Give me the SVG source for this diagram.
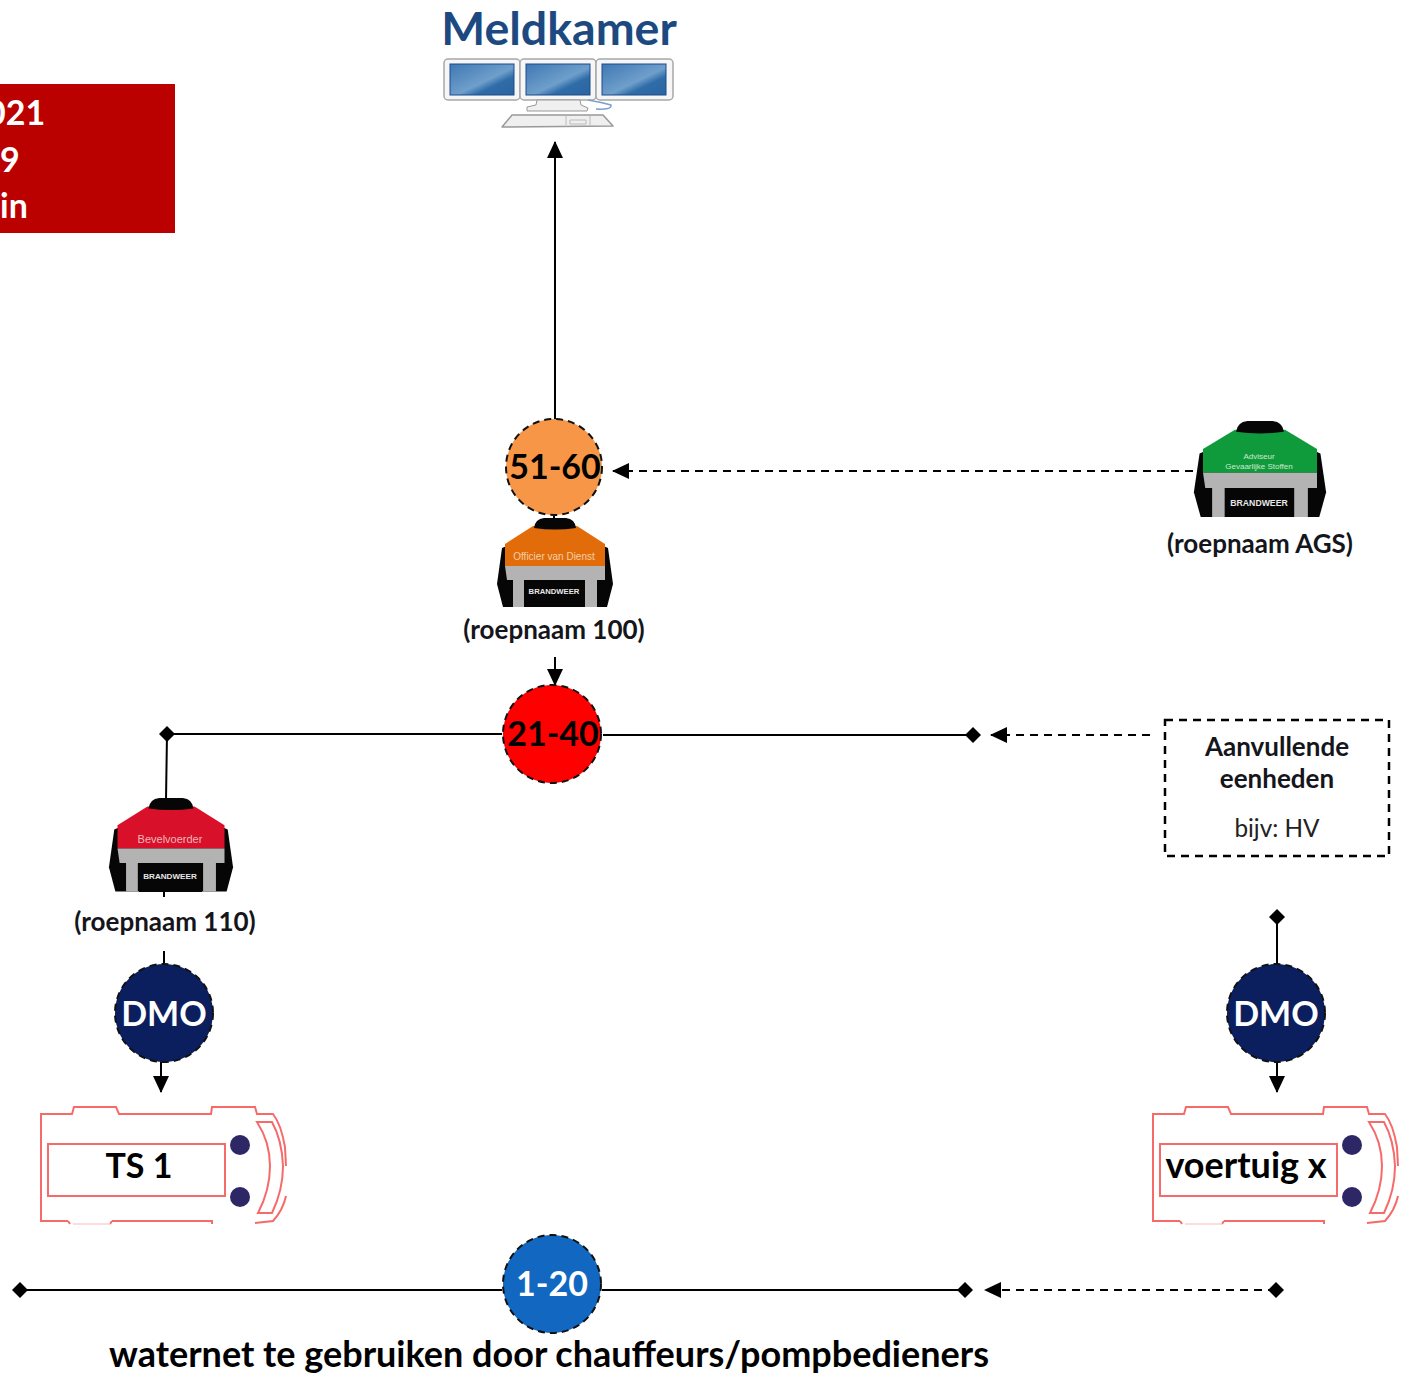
<svg xmlns="http://www.w3.org/2000/svg" xmlns:xlink="http://www.w3.org/1999/xlink" width="1401" height="1376" viewBox="0 0 1401 1376">
<style>
text{font-family:"Lato","Liberation Sans",sans-serif;text-anchor:middle;fill:#000}
.b{font-weight:700}
.lbl{font-size:26px;font-weight:700;fill:#15151c}
.num{font-size:34px;font-weight:700}
.w{fill:#fff}
.big{font-size:36px;font-weight:700}
.red{font-size:34px;font-weight:700;text-anchor:start;fill:#fff}
.jt{font-family:"Liberation Sans",sans-serif;fill:#eee;font-size:10px}
.bw{font-family:"Liberation Sans",sans-serif;font-weight:700;fill:#e8e8e8}
.line{fill:none;stroke:#000;stroke-width:2}
.dash{fill:none;stroke:#000;stroke-width:2;stroke-dasharray:8 6}
.circ{stroke:#111;stroke-width:2;stroke-dasharray:7 5}
.truck{fill:none;stroke:#f66a6a;stroke-width:2}
.scr{fill:url(#sg);stroke:#1d4a8c;stroke-width:1}
.mon{fill:#f6f6f6;stroke:#a8a8a8;stroke-width:1.5}
</style>
<defs>
<linearGradient id="sg" x1="0" y1="0" x2="1" y2="1"><stop offset="0" stop-color="#3f78b4"/><stop offset=".55" stop-color="#6f9fcb"/><stop offset=".7" stop-color="#2f6ca8"/><stop offset="1" stop-color="#2a64a0"/></linearGradient>
<marker id="arr" markerUnits="userSpaceOnUse" markerWidth="18" markerHeight="16" refX="16" refY="8" orient="auto"><path d="M0,0 L17,8 L0,16 Z" fill="#000"/></marker>
<marker id="dia" markerUnits="userSpaceOnUse" markerWidth="18" markerHeight="18" refX="9" refY="9" orient="0"><path d="M1,9 L9,1 L17,9 L9,17 Z" fill="#000"/></marker>
<g id="jk">
<path d="M-44,26 L-53,30 L-58,66 L-52,89 L52,89 L58,66 L53,30 L44,26 Z" fill="#060606"/>
<path d="M-50,48 L-50,26 L-22,8 L22,8 L50,26 L50,48 Z" fill="var(--c)"/>
<path d="M-21,10 Q-20,1 -11,0 L11,0 Q20,1 21,10 Q0,13 -21,10 Z" fill="#060606"/>
<path d="M-50,48 L50,48 L50,62 L42,62 L42,89 L30,89 L30,62 L-31,62 L-31,89 L-42,89 L-42,62 L-48,62 Z" fill="#b3b3b3"/>
</g>
<g id="truck">
<path class="truck" d="M27,115 L0,115 L0,8 L31,8 L33,1 L75,1 L78,8 L170,8 L171,1 L214,1 L216,8 L232,8 Q240,18 244,41 L245,60 M245,90 Q242,104 232,115 L214,117 M71,115 L171,115 L171,118 M27,115 L29,118 M71,115 L69,118" />
<path d="M32,118 L69,118" fill="none" stroke="#fbd0d0" stroke-width="1.5"/>
<path class="truck" d="M7,38 L184,38 L184,90 L7,90 Z" stroke-width="2.5"/>
<path class="truck" d="M216,16 L231,16 Q241,34 242,60 Q242,84 231,107 L217,107 Q229,84 229,60 Q229,36 216,16 Z" stroke-width="1.5"/>
<circle cx="199" cy="39" r="10" fill="#2d2766"/><circle cx="199" cy="91" r="10" fill="#2d2766"/>
</g>
</defs>
<rect width="1401" height="1376" fill="#fff"/>
<g id="connectors">
<path class="line" d="M555,420 L555,142" marker-end="url(#arr)"/>
<path class="line" d="M554,512 L554,520"/>
<path class="dash" d="M1193,471 L613,471" marker-end="url(#arr)"/>
<path class="line" d="M555,657 L555,685" marker-end="url(#arr)"/>
<path class="line" d="M502,734 L167,734 L166,800" marker-mid="url(#dia)"/>
<path class="line" d="M603,735 L973,735" marker-end="url(#dia)"/>
<path class="dash" d="M1150,735 L991,735" marker-end="url(#arr)"/>
<path class="line" d="M164,892 L164,897 M164,951 L164,965"/>
<path class="line" d="M161,1060 L161,1092" marker-end="url(#arr)"/>
<path class="line" d="M1277,965 L1277,917" marker-end="url(#dia)"/>
<path class="line" d="M1277,1060 L1277,1092" marker-end="url(#arr)"/>
<path class="line" d="M502,1290 L20,1290" marker-end="url(#dia)"/>
<path class="line" d="M602,1290 L965,1290" marker-end="url(#dia)"/>
<path class="dash" d="M1276,1290 L985,1290" marker-start="url(#dia)" marker-end="url(#arr)"/>
</g>
<g id="box-2021">
<rect x="0" y="84" width="175" height="149" fill="#bb0000"/>
<text class="red" x="-14" y="125">021</text>
<text class="red" x="0" y="172">9</text>
<text class="red" x="0" y="218">in</text>
</g>
<g id="meldkamer">
<text class="b" x="559" y="45" font-size="46.5" style="fill:#1c4a80">Meldkamer</text>
<rect class="mon" x="444" y="59" width="76" height="41" rx="4"/><rect class="mon" x="520" y="59" width="76" height="41" rx="4"/><rect class="mon" x="596" y="59" width="77" height="41" rx="4"/>
<rect class="scr" x="450" y="64" width="64" height="31"/><rect class="scr" x="526" y="64" width="64" height="31"/><rect class="scr" x="602" y="64" width="64" height="31"/>
<path d="M537,100 L580,100 L581,105 L588,108 L587,111 L527,111 L527,107 L536,105 Z" fill="#f0f0f0" stroke="#999"/>
<path d="M588,100 Q600,102 611,105 Q612,110 596,109" fill="none" stroke="#7d9fd0" stroke-width="1.5"/>
<path d="M512,115 L603,115 L613,126 L502,127 Z" fill="#efefef" stroke="#999" stroke-width="1.5" stroke-linejoin="round"/>
<path d="M566,116 L566,125 M570,120 L586,120 L586,124 L570,124 Z M590,116 L590,125" fill="none" stroke="#bbb"/>
</g>
<g id="n51-60">
<circle class="circ" cx="554" cy="467" r="48" fill="#f79646"/>
<text class="num" x="555" y="479">51-60</text>
</g>
<g id="ovd">
<use xlink:href="#jk" href="#jk" transform="translate(555,518)" style="--c:#e36c0a"/>
<rect x="524" y="581" width="61" height="26" fill="#060606"/>
<text class="jt" x="554" y="560" style="fill:#f3cfa8">Officier van Dienst</text>
<text class="bw" x="554" y="594" font-size="7.7">BRANDWEER</text>
<text class="lbl" x="554" y="639">(roepnaam 100)</text>
</g>
<g id="ags">
<use xlink:href="#jk" href="#jk" transform="translate(1260,421) scale(1.14,1.08)" style="--c:#0f9b3c"/>
<rect x="1226" y="491" width="68" height="26" fill="#060606"/>
<text class="jt" x="1259" y="459" style="font-size:8px;fill:#cfe8d0">Adviseur</text>
<text class="jt" x="1259" y="469" style="font-size:8px;fill:#cfe8d0">Gevaarlijke Stoffen</text>
<text class="bw" x="1259" y="506" font-size="8.7">BRANDWEER</text>
<text class="lbl" x="1260" y="553">(roepnaam AGS)</text>
</g>
<g id="n21-40">
<circle class="circ" cx="552" cy="734" r="49" fill="#fe0000"/>
<text class="num" x="553" y="746">21-40</text>
</g>
<g id="aanvullend">
<rect x="1165" y="720" width="224" height="136" fill="none" stroke="#000" stroke-width="2.5" stroke-dasharray="8 6"/>
<text class="lbl" x="1277" y="756">Aanvullende</text>
<text class="lbl" x="1277" y="788">eenheden</text>
<text x="1277" y="837" font-size="24.3" style="fill:#222">bijv: HV</text>
</g>
<g id="bevelvoerder">
<use xlink:href="#jk" href="#jk" transform="translate(171,798) scale(1.07,1.05)" style="--c:#d8102a"/>
<rect x="139" y="865" width="63" height="27" fill="#060606"/>
<text class="jt" x="170" y="843" style="font-size:11px;fill:#f0b8b8">Bevelvoerder</text>
<text class="bw" x="170" y="879" font-size="8.1">BRANDWEER</text>
<text class="lbl" x="165" y="931">(roepnaam 110)</text>
</g>
<g id="dmo-l">
<circle class="circ" cx="164" cy="1013" r="49" fill="#0b1f5e"/>
<text class="num w" x="164" y="1026" font-size="33">DMO</text>
</g>
<g id="dmo-r">
<circle class="circ" cx="1276" cy="1013" r="49" fill="#0b1f5e"/>
<text class="num w" x="1276" y="1026">DMO</text>
</g>
<g id="ts1">
<use xlink:href="#truck" href="#truck" x="41" y="1106"/>
<text class="num" x="139" y="1178">TS 1</text>
</g>
<g id="voertuig">
<use xlink:href="#truck" href="#truck" x="1153" y="1106"/>
<text class="big" x="1246" y="1178">voertuig x</text>
</g>
<g id="n1-20">
<circle class="circ" cx="552" cy="1284" r="49" fill="#1268c0"/>
<text class="num w" x="552" y="1296">1-20</text>
</g>
<text id="caption" class="b" x="549" y="1367" font-size="36">waternet te gebruiken door chauffeurs/pompbedieners</text>
</svg>
